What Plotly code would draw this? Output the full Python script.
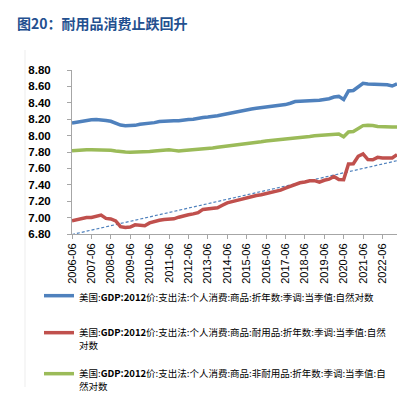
import numpy as np
import pandas as pd
import plotly.graph_objects as go

# Quarterly categories 2006-06 .. 2023-03
quarters = [p.end_time.strftime("%Y-%m") for p in pd.period_range("2006Q2", "2023Q1", freq="Q")]
tick_labels = [q for q in quarters if q.endswith("-06")]

goods = [8.154, 8.165, 8.174, 8.185, 8.194, 8.195, 8.194, 8.185, 8.175, 8.150,
         8.128, 8.120, 8.120, 8.125, 8.138, 8.142, 8.147, 8.158, 8.172, 8.178,
         8.180, 8.180, 8.182, 8.193, 8.196, 8.200, 8.213, 8.220, 8.226, 8.232,
         8.243, 8.255, 8.268, 8.280, 8.288, 8.300, 8.315, 8.325, 8.333, 8.340,
         8.349, 8.355, 8.362, 8.372, 8.378, 8.395, 8.415, 8.418, 8.418, 8.422,
         8.428, 8.432, 8.438, 8.450, 8.470, 8.478, 8.440, 8.545, 8.550, 8.590,
         8.638, 8.630, 8.628, 8.630, 8.628, 8.620, 8.605, 8.632]

durables = [6.962, 6.975, 6.988, 7.000, 7.002, 7.012, 7.030, 6.990, 6.983, 6.960,
            6.890, 6.880, 6.885, 6.912, 6.906, 6.900, 6.935, 6.955, 6.968, 6.978,
            6.982, 6.985, 7.005, 7.025, 7.035, 7.045, 7.060, 7.100, 7.105, 7.105,
            7.120, 7.150, 7.180, 7.195, 7.210, 7.225, 7.250, 7.262, 7.270, 7.278,
            7.290, 7.305, 7.318, 7.335, 7.360, 7.385, 7.405, 7.425, 7.435, 7.448,
            7.450, 7.432, 7.455, 7.468, 7.502, 7.465, 7.462, 7.654, 7.656, 7.748,
            7.776, 7.708, 7.706, 7.735, 7.727, 7.725, 7.727, 7.768]

nondurables = [7.816, 7.822, 7.828, 7.828, 7.828, 7.828, 7.828, 7.826, 7.820, 7.812,
               7.802, 7.800, 7.798, 7.798, 7.800, 7.800, 7.806, 7.812, 7.818, 7.826,
               7.828, 7.820, 7.812, 7.818, 7.822, 7.826, 7.830, 7.835, 7.845, 7.850,
               7.858, 7.865, 7.868, 7.878, 7.890, 7.896, 7.902, 7.908, 7.915, 7.925,
               7.935, 7.940, 7.946, 7.955, 7.960, 7.966, 7.972, 7.978, 7.983, 7.990,
               7.998, 8.003, 8.008, 8.012, 8.016, 8.020, 7.985, 8.045, 8.050, 8.085,
               8.122, 8.125, 8.123, 8.110, 8.105, 8.105, 8.105, 8.105]

names = [
    "美国:<b>GDP:2012</b>价:支出法:个人消费:商品:折年数:季调:当季值:自然对数",
    "美国:<b>GDP:2012</b>价:支出法:个人消费:商品:耐用品:折年数:季调:当季值:自然<br>对数",
    "美国:<b>GDP:2012</b>价:支出法:个人消费:商品:非耐用品:折年数:季调:当季值:自<br>然对数",
]
colors = ["#4F81BD", "#C0504D", "#9BBB59"]
legend_ids = ["legend", "legend2", "legend3"]
legend_tops = [275, 312, 353]

idx = list(range(len(quarters)))
tick_pos = [i for i, q in enumerate(quarters) if q in tick_labels]
coef = np.polyfit(idx, durables, 1)
trend = np.polyval(coef, idx)

fig = go.Figure()
fig.add_trace(go.Scatter(x=idx, y=trend, mode="lines", showlegend=False,
                         line=dict(color="#4F81BD", width=1.2, dash="3px,2px"), hoverinfo="skip"))
for vals, nm, c, lg in zip([goods, durables, nondurables], names, colors, legend_ids):
    fig.add_trace(go.Scatter(x=idx, y=vals, mode="lines", name=nm, legend=lg,
                             customdata=quarters, line=dict(color=c, width=3.5)))

legend_common = dict(xref="container", yref="container", x=31/416, xanchor="left",
                     yanchor="top", valign="top", bgcolor="rgba(0,0,0,0)",
                     font=dict(family="Noto Sans CJK SC", size=9.5, color="black"))
legends = {lg: dict(legend_common, y=1-top/396) for lg, top in zip(legend_ids, legend_tops)}

fig.update_layout(
    width=416, height=396, autosize=False,
    margin=dict(l=64, r=27, t=62, b=170, autoexpand=False),
    paper_bgcolor="white", plot_bgcolor="white",
    font=dict(family="Liberation Sans, Noto Sans CJK SC", color="black"),
    title=dict(text="<b>图20：耐用品消费止跌回升</b>", x=9/416, xanchor="left", xref="container",
               y=1-16/396, yanchor="middle", yref="container",
               font=dict(family="Noto Sans CJK SC", size=14, color="#23508F")),
    xaxis=dict(range=[0, len(quarters)-1], tickmode="array", tickvals=tick_pos, ticktext=tick_labels,
               tickangle=-90, showline=True, linecolor="#A6A6A6", linewidth=1,
               ticks="outside", ticklen=4, tickcolor="#A6A6A6", showgrid=False, zeroline=False,
               automargin=False,
               tickfont=dict(family="Liberation Sans", size=11, color="black")),
    yaxis=dict(range=[6.8, 8.8], dtick=0.2, tick0=6.8, tickformat=".2f",
               showline=True, linecolor="#A6A6A6", linewidth=1, ticks="outside", ticklen=4,
               tickcolor="#A6A6A6", showgrid=False, zeroline=False, automargin=False,
               ticklabelstandoff=14,
               tickfont=dict(family="Liberation Sans", size=11.5, color="black", weight="bold")),
    shapes=[dict(type="line", xref="paper", yref="paper",
                 x0=(17-64)/325, x1=(17-64)/325, y0=1+20/164, y1=-(379-226)/164,
                 line=dict(color="#EDEDED", width=1))],
    **legends,
)

fig.write_html("out.html")
